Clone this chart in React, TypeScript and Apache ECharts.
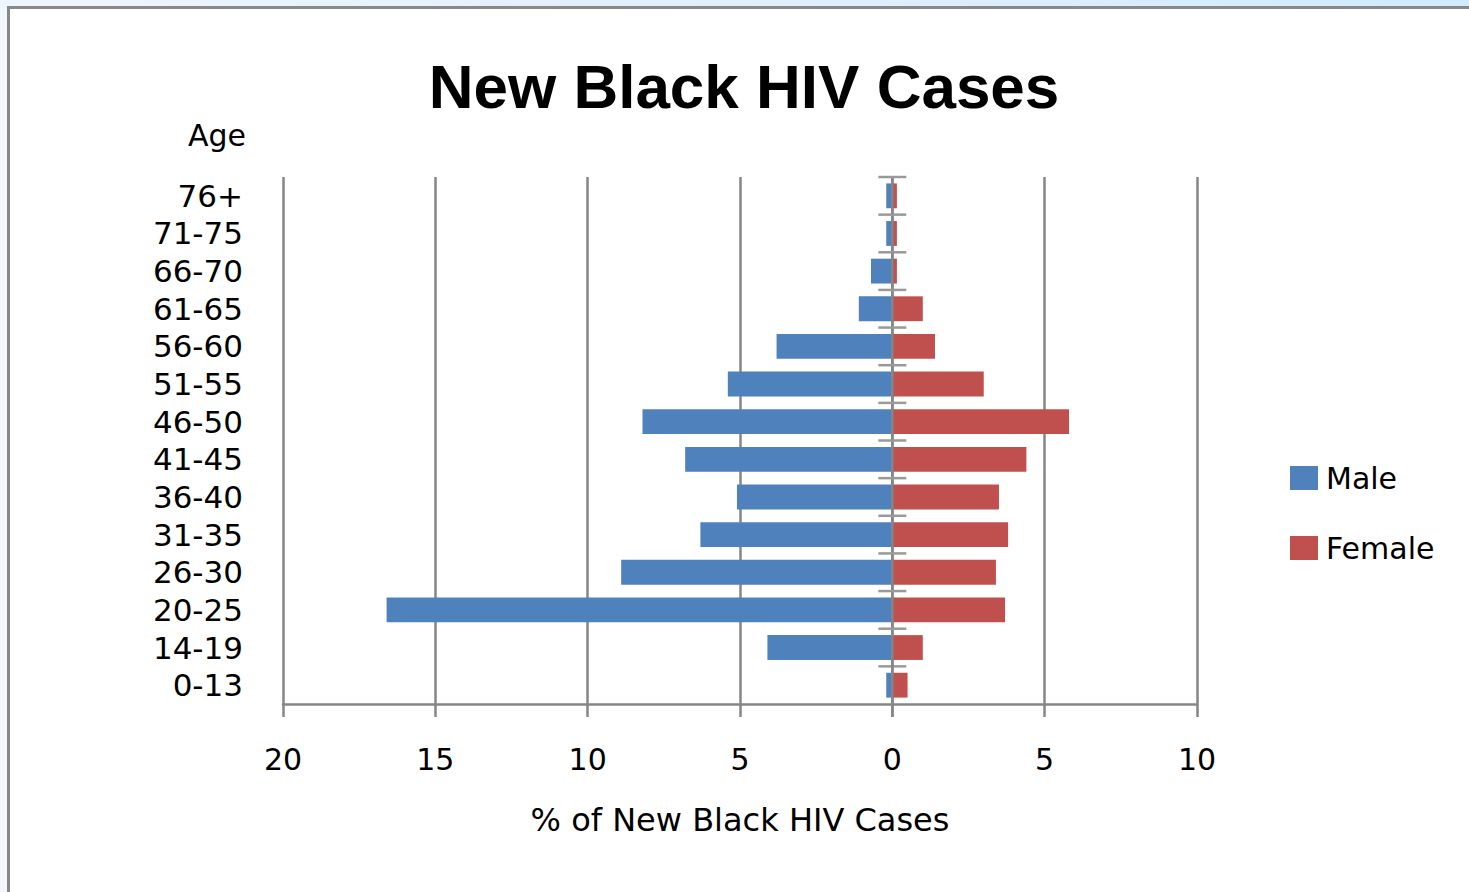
import React, { useEffect, useRef } from "react";
import * as echarts from "echarts";

const categories = ["0-13", "14-19", "20-25", "26-30", "31-35", "36-40", "41-45", "46-50", "51-55", "56-60", "61-65", "66-70", "71-75", "76+"];
const maleValues = [0.2, 4.1, 16.6, 8.9, 6.3, 5.1, 6.8, 8.2, 5.4, 3.8, 1.1, 0.7, 0.2, 0.2];
const femaleValues = [0.5, 1.0, 3.7, 3.4, 3.8, 3.5, 4.4, 5.8, 3.0, 1.4, 1.0, 0.15, 0.15, 0.15];
const xTicks = { min: -20, max: 10, interval: 5 };

const GRID = "#868686";
const FONT = "DejaVu Sans";

export default function App() {
  const ref = useRef<HTMLDivElement>(null);
  useEffect(() => {
    if (!ref.current) return;
    const chart = echarts.init(ref.current, undefined, { renderer: "svg" });
    const option: any = {
      animation: false,
      backgroundColor: "#ffffff",
      title: [
        {
          text: "New Black HIV Cases",
          left: 739,
          top: 50,
          textAlign: "center",
          textStyle: {
            fontFamily: "Liberation Sans",
            fontWeight: "bold",
            fontSize: 62,
            color: "#000",
          },
        },
        {
          text: "Age",
          left: 183,
          top: 115,
          textStyle: { fontFamily: FONT, fontWeight: "normal", fontSize: 30, color: "#000" },
        },
      ],
      legend: {
        orient: "vertical",
        left: 1285,
        top: 458,
        itemWidth: 28,
        itemHeight: 24,
        itemGap: 40,
        icon: "rect",
        textStyle: { fontFamily: FONT, fontSize: 30, color: "#000", padding: [0, 0, 0, 3] },
        data: ["Male", "Female"],
      },
      grid: { left: 283, right: 272, top: 177, bottom: 188 },
      xAxis: {
        type: "value",
        min: xTicks.min,
        max: xTicks.max,
        interval: xTicks.interval,
        name: "% of New Black HIV Cases",
        nameLocation: "middle",
        nameGap: 100,
        nameTextStyle: { fontFamily: FONT, fontSize: 32, color: "#000", verticalAlign: "top" },
        axisLine: { show: true, lineStyle: { color: GRID, width: 2.5 } },
        axisTick: { show: true, length: 13, lineStyle: { color: GRID, width: 2.5 } },
        axisLabel: {
          formatter: (v: number) => String(Math.abs(v)),
          margin: 40,
          fontFamily: FONT,
          fontSize: 30,
          color: "#000",
        },
        splitLine: { show: true, lineStyle: { color: GRID, width: 2.5 } },
      },
      yAxis: {
        type: "category",
        data: categories,
        axisLine: { show: false },
        axisTick: { show: false },
        axisLabel: { interval: 0, margin: 40, fontFamily: FONT, fontSize: 31, color: "#000" },
        splitLine: { show: false },
      },
      graphic: [
        {
          type: "rect",
          z: -10,
          shape: { x: 0, y: 0, width: 1469, height: 7 },
          style: {
            fill: new echarts.graphic.LinearGradient(0, 0, 1, 0, [
              { offset: 0, color: "#eef5fc" },
              { offset: 1, color: "#d2eafd" },
            ]),
          },
        },
        { type: "rect", z: -10, shape: { x: 0, y: 7, width: 7, height: 885 }, style: { fill: "#f2f7fc" } },
        { type: "line", z: -5, shape: { x1: 7, y1: 7.5, x2: 1469, y2: 7.5 }, style: { stroke: "#888", lineWidth: 3 } },
        { type: "line", z: -5, shape: { x1: 8.5, y1: 6, x2: 8.5, y2: 892 }, style: { stroke: "#888", lineWidth: 3 } },
      ],
      series: [
        {
          name: "Male",
          type: "bar",
          data: maleValues.map((v) => -v),
          barWidth: "66%",
          barGap: "-100%",
          itemStyle: { color: "#4f81bd" },
        },
        {
          name: "Female",
          type: "bar",
          data: femaleValues,
          barWidth: "66%",
          barGap: "-100%",
          itemStyle: { color: "#c0504d" },
        },
        {
          type: "custom",
          silent: true,
          z: 5,
          data: categories.map((_, i) => [0, i]),
          encode: { x: 0, y: 1 },
          renderItem: (params: any, api: any) => {
            const c = api.coord([0, api.value(1)]);
            const h = api.size([0, 1])[1];
            const children: any[] = [];
            const tick = (y: number) => ({
              type: "line",
              shape: { x1: c[0] - 14, y1: y, x2: c[0] + 14, y2: y },
              style: { stroke: "#999", lineWidth: 2.5 },
            });
            children.push(tick(c[1] - h / 2));
            if (params.dataIndex === 0) {
              const top = c[1] + h / 2 - h * categories.length;
              children.push({
                type: "line",
                shape: { x1: c[0], y1: top, x2: c[0], y2: c[1] + h / 2 + 13 },
                style: { stroke: GRID, lineWidth: 2.5 },
              });
            }
            return { type: "group", children };
          },
        },
      ],
    };
    chart.setOption(option);
    return () => chart.dispose();
  }, []);
  return (
    <div
      ref={ref}
      style={{ position: "absolute", left: 0, top: 0, width: 1469, height: 892 }}
    />
  );
}
